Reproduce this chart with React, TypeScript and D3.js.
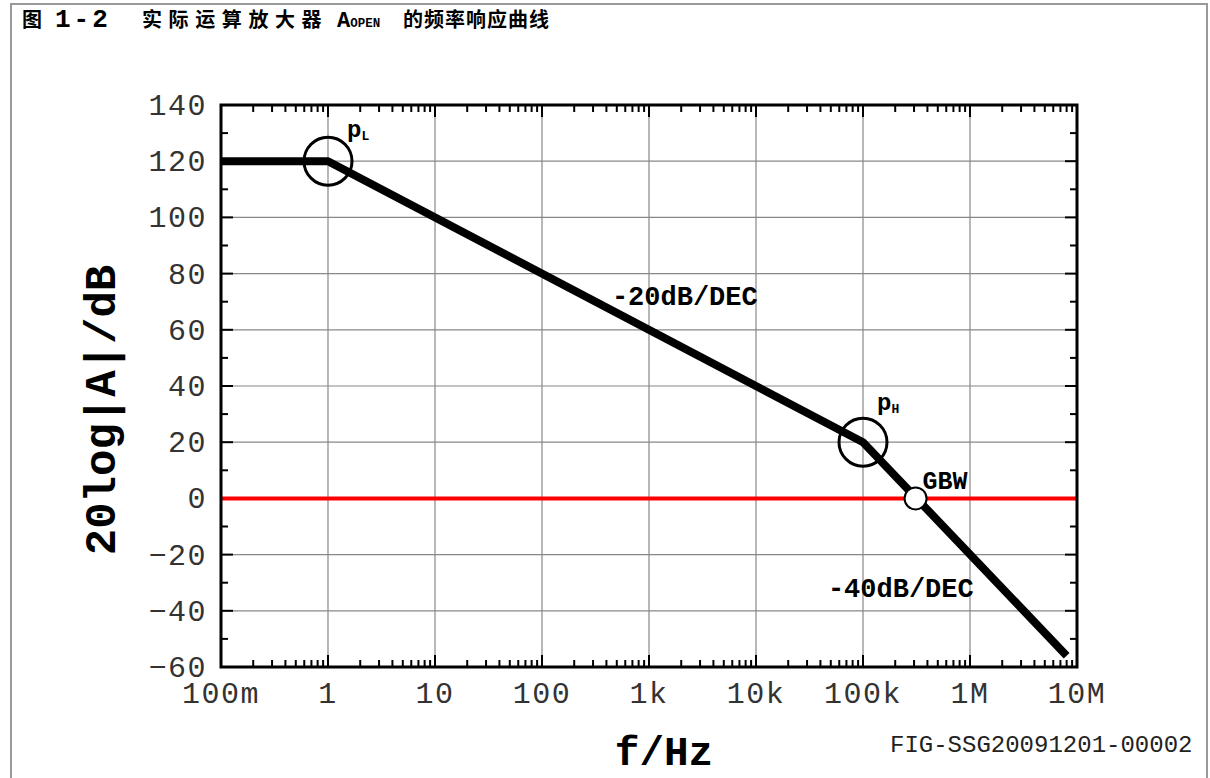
import * as d3 from 'd3'

// frequency decades (Hz) and their labels
const decades = [0.1, 1, 10, 100, 1e3, 1e4, 1e5, 1e6, 1e7]
const freqLabels = ['100m', '1', '10', '100', '1k', '10k', '100k', '1M', '10M']
// gain axis ticks (dB)
const dbTicks = [140, 120, 100, 80, 60, 40, 20, 0, -20, -40, -60]
const dbMinor = [130, 110, 90, 70, 50, 30, 10, -10, -30, -50]
// open-loop gain asymptotes
const gainFreq = [0.1, 1, 1e5, 8e6]
const gainDb = [120, 120, 20, -56]
// poles and unity-gain crossing
const poleNames = ['L', 'H']
const poleFreq = [1, 1e5]
const poleDb = [120, 20]
const gbwFreq = 3.1e5
const gbwDb = 0
// slope notes
const slopeText = ['-20dB/DEC', '-40dB/DEC']
const slopeFreq = [450, 4.7e4]
const slopeDb = [69, -35]

const W = 1210
const H = 778
const mono = '"Liberation Mono", "Courier New", monospace'

export default function App() {
  const x = d3.scaleLog().domain([0.1, 1e7]).range([221, 1077])
  const y = d3.scaleLinear().domain([-60, 140]).range([667, 105])
  const [x0, x1] = x.range()
  const [y0, y1] = y.range()

  const minor: number[] = []
  decades.slice(0, -1).forEach((d) => {
    for (let k = 2; k <= 9; k++) minor.push(d * k)
  })

  const line = d3
    .line<number>()
    .x((f) => x(f))
    .y((_, i) => y(gainDb[i]))

  const labelOff: Record<string, [number, number]> = { L: [19, -24], H: [14, -32] }

  return (
    <svg width={W} height={H} style={{ position: 'absolute', left: 0, top: 0, background: '#fff' }}>
      <rect x={11} y={4} width={1196} height={800} fill="none" stroke="#999" strokeWidth={2} />

      <text y={27} fontWeight="bold" fill="#000">
        <tspan x={22} fontFamily='"Noto Sans CJK SC"' fontSize={20}>图</tspan>
        <tspan x={55} fontFamily={mono} fontSize={26} letterSpacing={3}>1-2</tspan>
        <tspan x={142} fontFamily='"Noto Sans CJK SC"' fontSize={20} letterSpacing={6.6}>实际运算放大器</tspan>
        <tspan x={337} fontFamily={mono} fontSize={22}>A</tspan>
        <tspan fontFamily={mono} fontSize={12.5}>OPEN</tspan>
        <tspan x={403} fontFamily='"Noto Sans CJK SC"' fontSize={20} letterSpacing={1}>的频率响应曲线</tspan>
      </text>

      {/* grid */}
      <g stroke="#888" strokeWidth={1.2}>
        {decades.slice(1, -1).map((d) => (
          <line key={d} x1={x(d)} x2={x(d)} y1={y1} y2={y0} />
        ))}
        {dbTicks.slice(1, -1).map((v) => (
          <line key={v} x1={x0} x2={x1} y1={y(v)} y2={y(v)} />
        ))}
      </g>

      {/* ticks */}
      <g stroke="#000" strokeWidth={2}>
        {decades.map((d) => (
          <g key={d}>
            <line x1={x(d)} x2={x(d)} y1={y0} y2={y0 - 12} />
            <line x1={x(d)} x2={x(d)} y1={y1} y2={y1 + 12} />
          </g>
        ))}
        {minor.map((d) => (
          <g key={d}>
            <line x1={x(d)} x2={x(d)} y1={y0} y2={y0 - 7} />
            <line x1={x(d)} x2={x(d)} y1={y1} y2={y1 + 7} />
          </g>
        ))}
        {dbTicks.map((v) => (
          <g key={v}>
            <line x1={x0} x2={x0 + 12} y1={y(v)} y2={y(v)} />
            <line x1={x1} x2={x1 - 12} y1={y(v)} y2={y(v)} />
          </g>
        ))}
        {dbMinor.map((v) => (
          <g key={v}>
            <line x1={x0} x2={x0 + 7} y1={y(v)} y2={y(v)} />
            <line x1={x1} x2={x1 - 7} y1={y(v)} y2={y(v)} />
          </g>
        ))}
      </g>

      {/* 0 dB line */}
      <line x1={x0} x2={x1} y1={y(0)} y2={y(0)} stroke="#ff0000" strokeWidth={4} />

      {/* frame */}
      <rect x={x0} y={y1} width={x1 - x0} height={y0 - y1} fill="none" stroke="#000" strokeWidth={3} />

      {/* gain curve */}
      <path d={line(gainFreq) || ''} fill="none" stroke="#000" strokeWidth={8} strokeLinejoin="round" />

      {poleFreq.map((f, i) => {
        const [dx, dy] = labelOff[poleNames[i]]
        return (
          <g key={f}>
            <circle cx={x(f)} cy={y(poleDb[i])} r={24} fill="none" stroke="#000" strokeWidth={3} />
            <text x={x(f) + dx} y={y(poleDb[i]) + dy} fontFamily={mono} fontWeight="bold" fontSize={24}>
              p<tspan fontSize={13} dy={3}>{poleNames[i]}</tspan>
            </text>
          </g>
        )
      })}

      <circle cx={x(gbwFreq)} cy={y(gbwDb)} r={11} fill="#fff" stroke="#000" strokeWidth={2} />
      <text x={x(gbwFreq) + 7} y={y(gbwDb) - 9} fontFamily={mono} fontWeight="bold" fontSize={25}>
        GBW
      </text>

      {slopeText.map((t, i) => (
        <text key={t} x={x(slopeFreq[i])} y={y(slopeDb[i])} fontFamily={mono} fontWeight="bold" fontSize={27}>
          {t}
        </text>
      ))}

      {/* tick labels */}
      <g fontFamily={mono} fontSize={30} letterSpacing={1.5} fill="#333">
        {decades.map((d, i) => (
          <text key={d} x={x(d)} y={703} textAnchor="middle">
            {freqLabels[i]}
          </text>
        ))}
        {dbTicks.map((v) => (
          <text key={v} x={207} y={y(v)} dy="0.33em" textAnchor="end">
            {v < 0 ? '\u2212' + Math.abs(v) : v}
          </text>
        ))}
      </g>

      <text x={664} y={765} textAnchor="middle" fontFamily={mono} fontWeight="bold" fontSize={41}>
        f/Hz
      </text>
      <text
        transform={`translate(115,410) rotate(-90)`}
        textAnchor="middle"
        fontFamily={mono}
        fontWeight="bold"
        fontSize={44}
      >
        20log|A|/dB
      </text>
      <text x={890} y={752} fontFamily={mono} fontSize={24} fill="#222">
        FIG-SSG20091201-00002
      </text>
    </svg>
  )
}
